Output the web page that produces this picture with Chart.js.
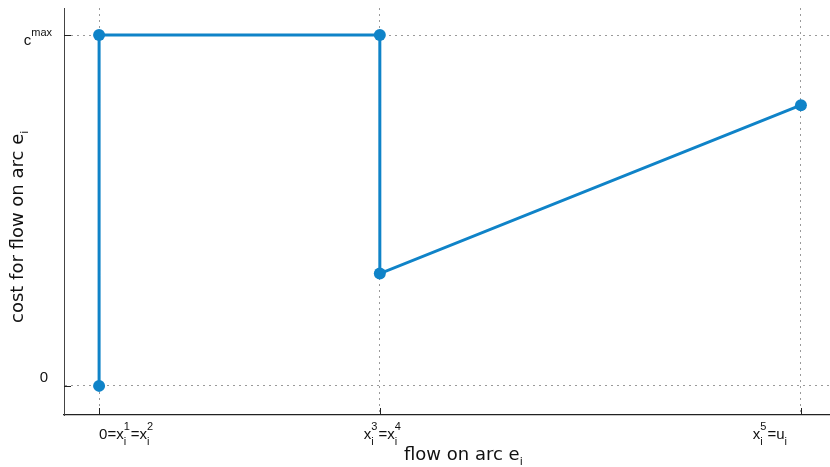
<!DOCTYPE html>
<html>
<head>
<meta charset="utf-8">
<script src="https://cdn.jsdelivr.net/npm/chart.js@4"></script>
<style>
  html, body { margin: 0; padding: 0; background: #ffffff; }
  #wrap { width: 830px; height: 467px; position: relative; }
</style>
</head>
<body>
<div id="wrap"><canvas id="chart"></canvas></div>
<script>
// Piecewise cost function along one arc: flow breakpoints and cost at each
const flowValues = [0, 0, 0.4, 0.4, 1];
const costValues = [0, 1, 1, 0.32, 0.8];

// Tick positions and their labels (markup: _ subscript, ^ superscript)
const xTickValues = [0, 0.4, 1];
const xTickLabels = ['0=x_i^1=x_i^2', 'x_i^3=x_i^4', 'x_i^5=u_i'];
const yTickValues = [0, 1];
const yTickLabels = ['0', 'c^{max}'];

const xTitle = 'flow on arc e_i';
const yTitle = 'cost for flow on arc e_i';

const lineColor = '#0f83c8';
const gridColor = '#9a9a9a';

// Split markup into plain runs and stacked sub/superscript runs
function parseRich(src) {
  const segs = [];
  let i = 0;
  while (i < src.length) {
    const c = src[i];
    if (c === '_' || c === '^') {
      let arg;
      if (src[i + 1] === '{') {
        const j = src.indexOf('}', i);
        arg = src.slice(i + 2, j);
        i = j + 1;
      } else {
        arg = src[i + 1];
        i += 2;
      }
      let last = segs[segs.length - 1];
      if (!last || last.type !== 'script') {
        last = { type: 'script', sub: '', sup: '' };
        segs.push(last);
      }
      if (c === '_') last.sub = arg; else last.sup = arg;
    } else {
      let last = segs[segs.length - 1];
      if (!last || last.type !== 'text') {
        last = { type: 'text', t: '' };
        segs.push(last);
      }
      last.t += c;
      i++;
    }
  }
  return segs;
}

function drawRich(ctx, src, x, y, align, font, size, smallSize, subDy, supDy) {
  const segs = parseRich(src);
  const big = size + 'px ' + font;
  const small = smallSize + 'px ' + font;
  let total = 0;
  for (const s of segs) {
    if (s.type === 'text') {
      ctx.font = big;
      s.w = ctx.measureText(s.t).width;
    } else {
      ctx.font = small;
      s.w = Math.max(ctx.measureText(s.sub).width, ctx.measureText(s.sup).width) + 1;
    }
    total += s.w;
  }
  let cx = align === 'center' ? x - total / 2 : align === 'right' ? x - total : x;
  ctx.textAlign = 'left';
  ctx.textBaseline = 'alphabetic';
  for (const s of segs) {
    if (s.type === 'text') {
      ctx.font = big;
      ctx.fillText(s.t, cx, y);
    } else {
      ctx.font = small;
      if (s.sub) ctx.fillText(s.sub, cx, y + subDy);
      if (s.sup) ctx.fillText(s.sup, cx, y + supDy);
    }
    cx += s.w;
  }
}

const axisDecor = {
  id: 'axisDecor',
  afterDraw(chart) {
    const { ctx, chartArea, scales } = chart;
    const xs = scales.x, ys = scales.y;
    ctx.save();
    // short inward tick marks on both axes
    ctx.strokeStyle = '#222';
    ctx.lineWidth = 1;
    ctx.beginPath();
    for (const v of xTickValues) {
      const px = Math.round(xs.getPixelForValue(v)) + 0.5;
      ctx.moveTo(px, chartArea.bottom);
      ctx.lineTo(px, chartArea.bottom - 7);
    }
    for (const v of yTickValues) {
      const py = Math.round(ys.getPixelForValue(v)) + 0.5;
      ctx.moveTo(chartArea.left, py);
      ctx.lineTo(chartArea.left + 7, py);
    }
    ctx.stroke();

    ctx.fillStyle = '#111';
    const tf = '"Liberation Sans", Arial, sans-serif';
    const last = xTickValues.length - 1;
    xTickValues.forEach((v, k) => {
      const px = xs.getPixelForValue(v);
      // outer labels sit inside the axis span, the rest are centred
      const align = k === 0 ? 'left' : k === last ? 'right' : 'center';
      const ax = k === 0 ? px : k === last ? px - 13 : px + 3;
      drawRich(ctx, xTickLabels[k], ax, chartArea.bottom + 24, align, tf, 15, 11, 6, -9);
    });
    yTickValues.forEach((v, k) => {
      const py = ys.getPixelForValue(v);
      const rx = v === 0 ? 48 : 53;
      drawRich(ctx, yTickLabels[k], rx, py + (v === 0 ? -4 : 10), 'right', tf, 15, 11, 6, -9);
    });

    const af = '"DejaVu Sans", sans-serif';
    drawRich(ctx, xTitle, 404, 460, 'left', af, 18, 11, 5, -9);
    ctx.save();
    ctx.translate(23, 323);
    ctx.rotate(-Math.PI / 2);
    drawRich(ctx, yTitle, 0, 0, 'left', af, 18, 11, 5, -9);
    ctx.restore();
    ctx.restore();
  }
};

new Chart(document.getElementById('chart'), {
  type: 'scatter',
  data: {
    datasets: [{
      data: flowValues.map((f, k) => ({ x: f, y: costValues[k] })),
      showLine: true,
      borderColor: lineColor,
      backgroundColor: lineColor,
      borderWidth: 3,
      pointRadius: 6,
      pointHoverRadius: 6,
      pointBorderWidth: 0,
      clip: false
    }]
  },
  options: {
    responsive: true,
    maintainAspectRatio: false,
    animation: false,
    events: [],
    layout: { autoPadding: false, padding: { left: 64, right: 1, top: 8, bottom: 52 } },
    plugins: { legend: { display: false }, tooltip: { enabled: false } },
    scales: {
      x: {
        type: 'linear',
        min: -0.05,
        max: 1.04,
        afterBuildTicks(scale) { scale.ticks = xTickValues.map(v => ({ value: v })); },
        ticks: { display: false },
        grid: { color: gridColor, lineWidth: 1, drawTicks: false },
        border: { display: true, color: '#222', width: 1.3, dash: [2, 4] }
      },
      y: {
        type: 'linear',
        min: -0.083,
        max: 1.077,
        afterBuildTicks(scale) { scale.ticks = yTickValues.map(v => ({ value: v })); },
        ticks: { display: false },
        grid: { color: gridColor, lineWidth: 1, drawTicks: false },
        border: { display: true, color: '#444', width: 1, dash: [2, 4] }
      }
    }
  },
  plugins: [axisDecor]
});
</script>
</body>
</html>
